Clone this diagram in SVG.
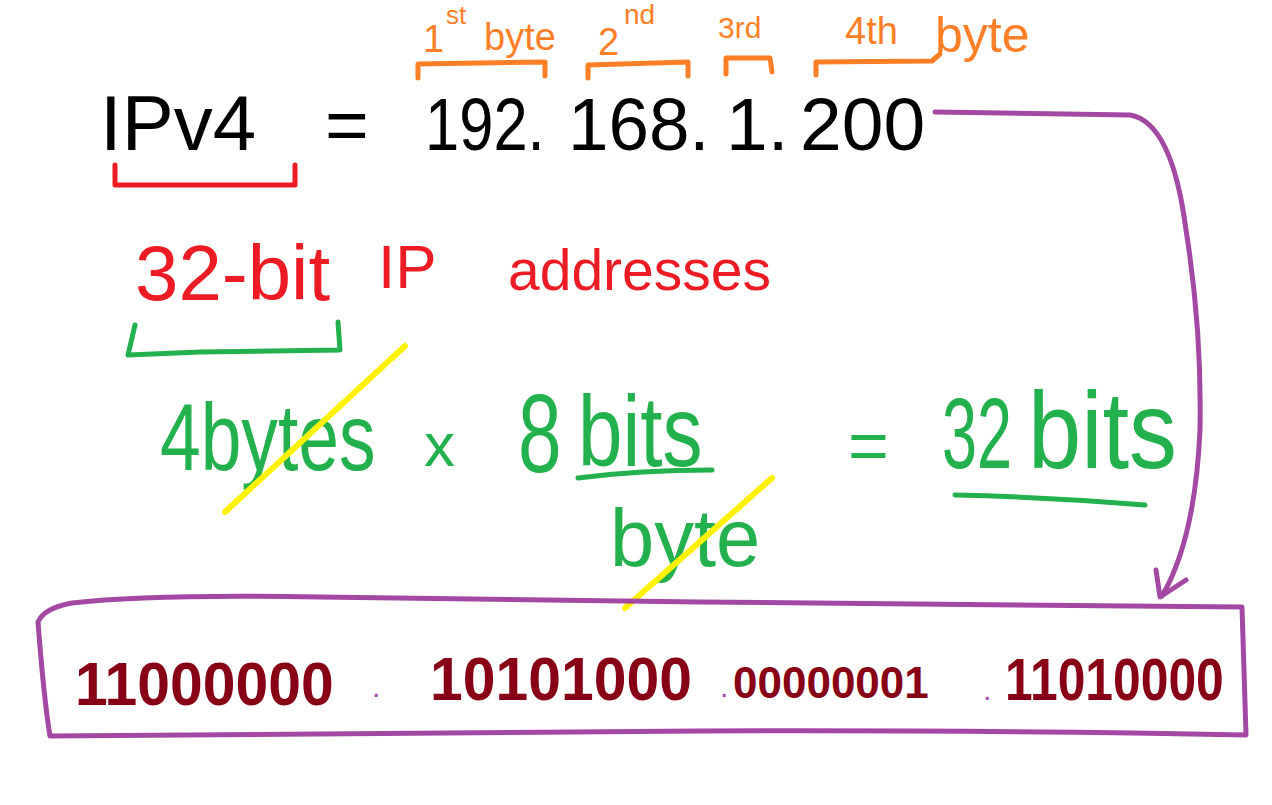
<svg xmlns="http://www.w3.org/2000/svg" width="1272" height="805" viewBox="0 0 1272 805">
<style>
.t{font-family:"Liberation Sans","DejaVu Sans",sans-serif}
.blk{fill:#000}
.org{fill:#ff7f27}
.red{fill:#ed1c24}
.grn{fill:#22b14c}
.drd{fill:#880015;font-weight:bold}
.pdot{fill:#a349a4}
.s{fill:none;stroke-linecap:round;stroke-linejoin:round}
.so{stroke:#ff7f27;stroke-width:5}
.sr{stroke:#ed1c24;stroke-width:5}
.sg{stroke:#22b14c;stroke-width:5}
.sy{stroke:#fff200;stroke-width:6}
.sp{stroke:#a349a4;stroke-width:5}
</style>
<rect width="1272" height="805" fill="#fff"/>

<g id="ipv4">
<text class="t blk" x="100" y="150" font-size="78">IPv4</text>
<path class="s sr" d="M115,165 L115,185 L295,185 L295,165"/>
</g>

<g id="equals1">
<text class="t blk" x="325" y="150" font-size="75">=</text>
</g>

<g id="address">
<text class="t blk" transform="translate(425,150) scale(0.82,1)" font-size="75">192.</text>
<text class="t blk" transform="translate(568,150) scale(0.97,1)" font-size="75">168.</text>
<text class="t blk" x="726" y="150" font-size="75">1.</text>
<text class="t blk" x="800" y="150" font-size="75">200</text>
</g>

<g id="byte-labels">
<text class="t org" x="423" y="52" font-size="38">1</text>
<text class="t org" x="446" y="24" font-size="26">st</text>
<text class="t org" x="484" y="50" font-size="38">byte</text>
<path class="s so" d="M418,78 L418,64 L545,62 L545,76"/>
<text class="t org" x="598" y="55" font-size="38">2</text>
<text class="t org" x="624" y="24" font-size="28">nd</text>
<path class="s so" d="M588,78 L588,65 L688,62 L688,76"/>
<text class="t org" x="718" y="38" font-size="30">3rd</text>
<path class="s so" d="M726,74 L726,58 L770,58 L772,72"/>
<text class="t org" x="845" y="44" font-size="38">4th</text>
<text class="t org" x="935" y="52" font-size="50">byte</text>
<path class="s so" d="M816,75 L816,62 L932,61 L940,54"/>
</g>

<g id="bits-label">
<text class="t red" x="135" y="300" font-size="78">32-bit</text>
<text class="t red" x="378" y="288" font-size="62">IP</text>
<text class="t red" x="508" y="290" font-size="57">addresses</text>
<path class="s sg" d="M135,325 L128,355 L200,352 L340,350 L338,322"/>
</g>

<g id="calc">
<text class="t grn" transform="translate(160,470) scale(0.77,1)" font-size="95">4bytes</text>
<text class="t grn" x="424" y="466" font-size="62">x</text>
<text class="t grn" transform="translate(518,472) scale(0.7,1)" font-size="112">8</text>
<text class="t grn" transform="translate(578,466) scale(0.8,1)" font-size="100">bits</text>
<path class="s sg" d="M578,478 Q640,470 712,470"/>
<text class="t grn" transform="translate(610,566) scale(0.97,1)" font-size="82">byte</text>
<text class="t grn" x="848" y="470" font-size="70">=</text>
<text class="t grn" transform="translate(942,468) scale(0.63,1)" font-size="100">32</text>
<text class="t grn" transform="translate(1028,468) scale(0.87,1)" font-size="110">bits</text>
<path class="s sg" d="M955,495 Q1050,497 1145,505"/>
<path class="s sy" d="M225,512 L405,346"/>
<path class="s sy" d="M625,608 L772,478"/>
</g>

<g id="binary">
<path class="s sp" d="M38,622 Q44,608 72,603 Q150,594 320,597 L700,602 L1242,607 L1246,735 Q1000,730 700,731 L50,736 Q44,700 38,622 Z" stroke-width="6"/>
<text class="t drd" transform="translate(75,705) scale(0.95,1)" font-size="62">11000000</text>
<text class="t pdot" x="372" y="697" font-size="30">.</text>
<text class="t drd" transform="translate(430,700) scale(0.95,1)" font-size="62">10101000</text>
<text class="t pdot" x="720" y="697" font-size="30">.</text>
<text class="t drd" x="733" y="698" font-size="44">00000001</text>
<text class="t pdot" x="983" y="700" font-size="30">.</text>
<text class="t drd" transform="translate(1005,700) scale(0.83,1)" font-size="60">11010000</text>
</g>

<g id="connectors">
<path class="s sp" d="M935,112 L1130,115 Q1172,122 1186,230 Q1202,330 1200,430 Q1195,540 1162,596"/>
<path class="s sp" d="M1156,570 L1160,597 L1186,580"/>
</g>
</svg>
